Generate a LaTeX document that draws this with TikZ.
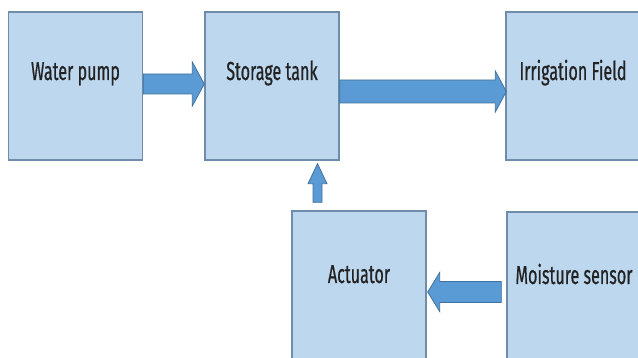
\documentclass[tikz,border=0pt]{standalone}
\usepackage{fontspec}
\setmainfont[FakeStretch=0.62,FakeBold=0.6]{Fira Sans}
\usetikzlibrary{calc}
\definecolor{boxfill}{HTML}{BDD7EE}
\definecolor{boxline}{HTML}{6F8DAA}
\definecolor{arrfill}{HTML}{5B9BD5}
\definecolor{arrline}{HTML}{41719C}
\definecolor{txt}{HTML}{222222}
\tikzset{
  blockbox/.style={draw=boxline, fill=boxfill, line width=1.4pt, minimum width=134pt, minimum height=148pt, inner sep=0pt, text=txt, font=\fontsize{26}{28}\selectfont},
  toptext/.style={text height=18pt, text depth=30pt},
  bottext/.style={text height=18pt, text depth=22pt},
  blockarrow/.style={draw=arrline, fill=arrfill, line width=0.8pt, line join=miter}
}
\begin{document}
\begin{tikzpicture}[x=1pt,y=-1pt]
\clip (0,0) rectangle (638,358);
\fill[white] (0,0) rectangle (638,358);
\node[blockbox, toptext] (wp) at (75.5,86) {Water pump};
\node[blockbox, toptext] (st) at (272,86) {Storage tank};
\node[blockbox, toptext] (irr) at (573,86) {Irrigation Field};
\node[blockbox, bottext] (act) at (359,285) {Actuator};
\node[blockbox, bottext] (ms) at (574,286) {Moisture sensor};
% Water pump -> Storage tank
\coordinate (s1) at ($(wp.east)+(0,-2)$);
\coordinate (t1) at ($(st.west)+(0,-2)$);
\draw[blockarrow] ($(s1)+(0,-10)$) -- ($(t1)+(-12,-10)$) -- ($(t1)+(-12,-22)$) -- (t1)
  -- ($(t1)+(-12,22)$) -- ($(t1)+(-12,10)$) -- ($(s1)+(0,10)$) -- cycle;
% Storage tank -> Irrigation Field
\coordinate (s2) at ($(st.east)+(0,5.5)$);
\coordinate (t2) at ($(irr.west)+(1,5.5)$);
\draw[blockarrow] ($(s2)+(0,-11.5)$) -- ($(t2)+(-11,-11.5)$) -- ($(t2)+(-11,-20.5)$) -- (t2)
  -- ($(t2)+(-11,20.5)$) -- ($(t2)+(-11,11.5)$) -- ($(s2)+(0,11.5)$) -- cycle;
% Actuator -> Storage tank
\coordinate (s3) at ($(act.north)+(-41.5,-8)$);
\coordinate (t3) at ($(s3 |- st.south)+(0,3)$);
\draw[blockarrow] ($(s3)+(-4.5,0)$) -- ($(t3)+(-4.5,20)$) -- ($(t3)+(-9.5,20)$) -- (t3)
  -- ($(t3)+(9.5,20)$) -- ($(t3)+(4.5,20)$) -- ($(s3)+(4.5,0)$) -- cycle;
% Moisture sensor -> Actuator
\coordinate (s4) at ($(ms.west)+(-5,6)$);
\coordinate (t4) at ($(act.east)+(1,7)$);
\draw[blockarrow] ($(s4)+(0,-10.5)$) -- ($(t4)+(12,-10.5)$) -- ($(t4)+(12,-19.5)$) -- (t4)
  -- ($(t4)+(12,19.5)$) -- ($(t4)+(12,10.5)$) -- ($(s4)+(0,10.5)$) -- cycle;
\end{tikzpicture}
\end{document}
